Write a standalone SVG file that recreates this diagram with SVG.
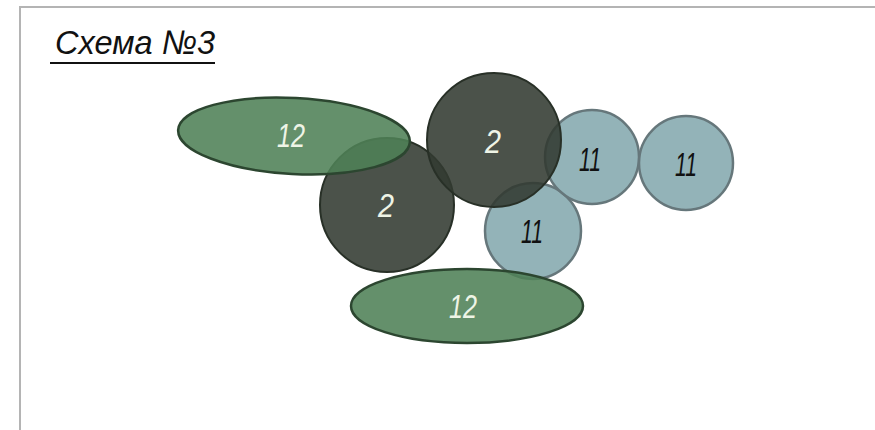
<svg xmlns="http://www.w3.org/2000/svg" width="875" height="430" viewBox="0 0 875 430">
<style>
.frame{fill:none;stroke:#b4b4b4;stroke-width:2}
.g12{fill:#4f8156;fill-opacity:0.88;stroke:#2c4630;stroke-width:2.5}
.d2{fill:#323a31;fill-opacity:0.88;stroke:#283027;stroke-width:2}
.b11{fill:#84a9ae;fill-opacity:0.88;stroke:#66777b;stroke-width:2.5}
.lbl{font-family:"Liberation Sans",sans-serif;font-style:italic;font-size:33px;text-anchor:middle}
.w{fill:#eef4e6}
.k{fill:#111}
.title{font-family:"Liberation Sans",sans-serif;font-style:italic;font-size:34px;fill:#111}
</style>
<rect width="875" height="430" fill="#fff"/>
<path class="frame" d="M20,431 V7 H876"/>
<g id="title">
<text class="title" x="55" y="54" textLength="160" lengthAdjust="spacingAndGlyphs">Схема №3</text>
<line x1="50" y1="63" x2="215" y2="63" stroke="#111" stroke-width="2"/>
</g>
<g id="c2a"><circle class="d2" cx="387" cy="205" r="67"/><text class="lbl w" x="386" y="217" textLength="16" lengthAdjust="spacingAndGlyphs">2</text></g>
<g id="e12a"><ellipse class="g12" cx="294" cy="136" rx="116" ry="38" transform="rotate(3 294 136)"/><text class="lbl w" x="291" y="147" textLength="28" lengthAdjust="spacingAndGlyphs">12</text></g>
<g id="c11a"><circle class="b11" cx="533" cy="231" r="48"/><text class="lbl k" x="532" y="243" textLength="22" lengthAdjust="spacingAndGlyphs">11</text></g>
<g id="c11b"><circle class="b11" cx="592" cy="157" r="47"/><text class="lbl k" x="590" y="171" textLength="22" lengthAdjust="spacingAndGlyphs">11</text></g>
<g id="c2b"><circle class="d2" cx="494" cy="140" r="67"/><text class="lbl w" x="493" y="153" textLength="16" lengthAdjust="spacingAndGlyphs">2</text></g>
<g id="c11c"><circle class="b11" cx="686" cy="163" r="47"/><text class="lbl k" x="686" y="176" textLength="22" lengthAdjust="spacingAndGlyphs">11</text></g>
<g id="e12b"><ellipse class="g12" cx="467" cy="306" rx="116" ry="37"/><text class="lbl w" x="463" y="318" textLength="28" lengthAdjust="spacingAndGlyphs">12</text></g>
<g id="connectors"/>
</svg>
